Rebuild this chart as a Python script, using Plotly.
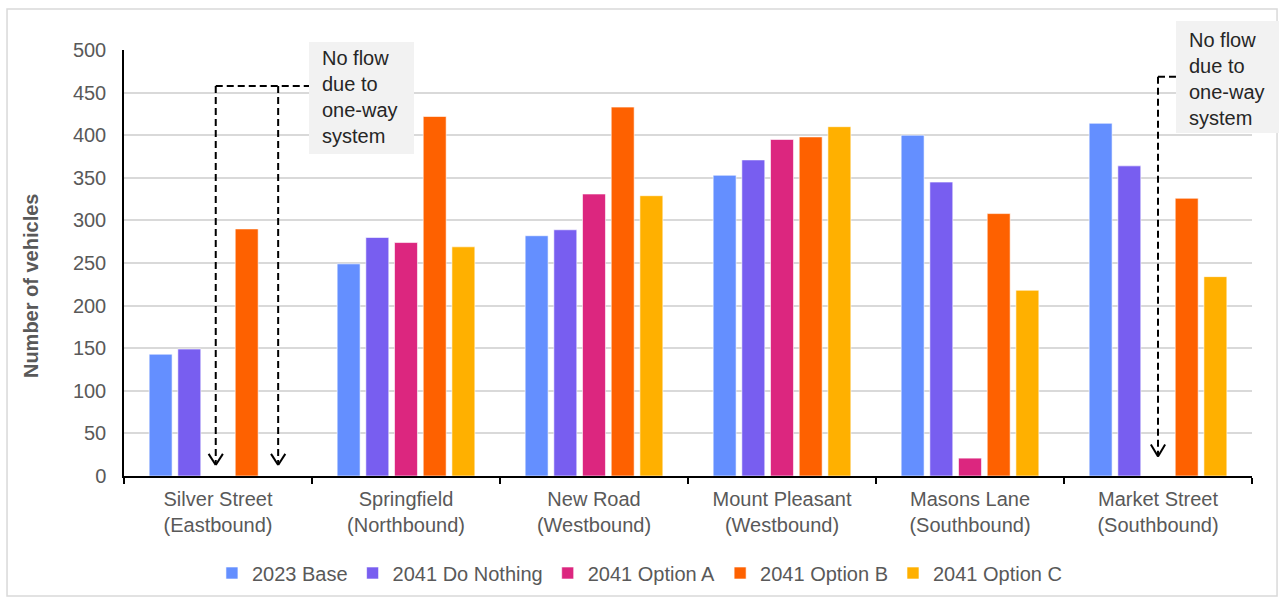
import plotly.graph_objects as go

# Junction approaches (two-line tick labels)
categories = [
    "Silver Street<br>(Eastbound)",
    "Springfield<br>(Northbound)",
    "New Road<br>(Westbound)",
    "Mount Pleasant<br>(Westbound)",
    "Masons Lane<br>(Southbound)",
    "Market Street<br>(Southbound)",
]

# Peak-hour vehicle counts per scenario (None = no flow on one-way link)
base_2023 = [143, 249, 282, 353, 400, 414]
do_nothing_2041 = [149, 280, 289, 371, 345, 364]
option_a_2041 = [None, 274, 331, 395, 21, None]
option_b_2041 = [290, 422, 433, 398, 308, 326]
option_c_2041 = [None, 269, 329, 410, 218, 234]

series_names = ["2023 Base", "2041 Do Nothing", "2041 Option A", "2041 Option B", "2041 Option C"]
series_values = [base_2023, do_nothing_2041, option_a_2041, option_b_2041, option_c_2041]
series_colors = ["#648FFF", "#785EF0", "#DC267F", "#FE6100", "#FFB000"]

y_ticks = [0, 50, 100, 150, 200, 250, 300, 350, 400, 450, 500]

note_text = "No flow<br>due to<br>one-way<br>system"

FONT = "Liberation Sans, Arial, sans-serif"
GREY = "#595959"

fig = go.Figure()
for name, vals, col in zip(series_names, series_values, series_colors):
    fig.add_trace(go.Bar(
        x=categories, y=vals, name=name,
        marker=dict(color=col, line=dict(color="rgba(255,255,255,0.6)", width=1)),
    ))

# Dashed leader lines pointing to the missing bars
dash_style = dict(color="black", width=2, dash="7px,4px")
arrow_style = dict(color="black", width=2)
shapes = []


def leader(x_pos, y_top, y_tip, head_h, head_w):
    # vertical dashed drop with an open chevron at the bottom
    return [
        dict(type="line", xref="x", yref="y", x0=x_pos, x1=x_pos, y0=y_top, y1=y_tip,
             line=dash_style, layer="above"),
        dict(type="line", xref="x", yref="y", x0=x_pos - head_w, x1=x_pos, y0=y_tip + head_h, y1=y_tip,
             line=arrow_style, layer="above"),
        dict(type="line", xref="x", yref="y", x0=x_pos + head_w, x1=x_pos, y0=y_tip + head_h, y1=y_tip,
             line=arrow_style, layer="above"),
    ]


# Silver Street: Option A and Option C slots
shapes += leader(-0.012, 457.7, 13, 13, 0.038)
shapes += leader(0.32, 457.7, 13, 13, 0.038)
shapes.append(dict(type="line", xref="x", yref="y", x0=-0.012, x1=0.5, y0=457.7, y1=457.7,
                   line=dash_style, layer="above"))
# Market Street: Option A slot
shapes += leader(5.0, 468.7, 23, 14, 0.038)
shapes.append(dict(type="line", xref="x", yref="y", x0=5.0, x1=5.12, y0=468.7, y1=468.7,
                   line=dash_style, layer="above"))

# Grey note panels (drawn after the leaders so they sit on top of them)
note_fill = dict(type="rect", xref="paper", yref="paper", line=dict(width=0),
                 fillcolor="#f2f2f2", layer="above")
shapes.append(dict(note_fill, x0=0.164, x1=0.2571, y0=0.7559, y1=1.0188))
shapes.append(dict(note_fill, x0=0.9326, x1=1.0239, y0=0.8052, y1=1.0681))

# Outer frame
shapes.append(dict(type="rect", xref="paper", yref="paper",
                   x0=-0.1037, x1=1.0222, y0=-0.2817, y1=1.0962,
                   line=dict(color="#d9d9d9", width=1.5), fillcolor="rgba(0,0,0,0)", layer="below"))

note_label = dict(xref="paper", yref="paper", xanchor="left", yanchor="top", text=note_text,
                  showarrow=False, align="left", borderpad=0,
                  font=dict(family=FONT, size=20, color="#262626"))

annotations = [
    dict(note_label, x=0.1746, y=1.0094),
    dict(note_label, x=0.9433, y=1.0516),
    dict(xref="paper", yref="paper", x=-0.0824, y=0.446, xanchor="center", yanchor="middle",
         text="<b>Number of vehicles</b>", textangle=-90, showarrow=False,
         font=dict(family=FONT, size=20, color=GREY)),
]

fig.update_layout(
    width=1281, height=597,
    margin=dict(l=124, r=29, t=50, b=121, autoexpand=False),
    paper_bgcolor="white", plot_bgcolor="white",
    barmode="group", bargap=0.237, bargroupgap=0.2,
    font=dict(family=FONT, size=20, color=GREY),
    shapes=shapes, annotations=annotations,
    legend=dict(orientation="h", xanchor="center", x=0.4574, yanchor="middle",
                yref="container", y=0.0402,
                font=dict(family=FONT, size=20, color=GREY), traceorder="normal"),
    showlegend=True,
)
fig.update_xaxes(
    type="category", showline=True, linecolor="black", linewidth=1.5,
    ticks="outside", tickson="boundaries", ticklen=6, tickcolor="black", tickwidth=1.5,
    showgrid=False, tickfont=dict(family=FONT, size=20, color=GREY), ticklabelstandoff=4,
)
fig.update_yaxes(
    range=[0, 500], tickvals=y_ticks, showline=True, linecolor="black", linewidth=1.5,
    gridcolor="#d9d9d9", gridwidth=1.5, ticks="", zeroline=False,
    tickfont=dict(family=FONT, size=20, color=GREY), ticklabelstandoff=12,
)

fig.write_html("out.html")
